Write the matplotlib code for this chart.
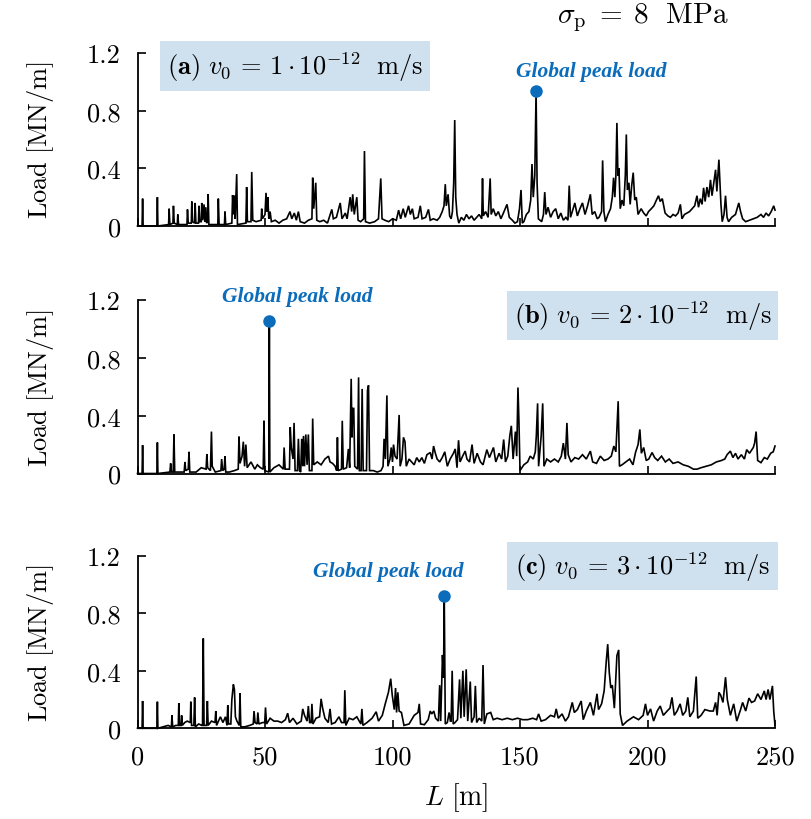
import matplotlib
matplotlib.use("Agg")
import matplotlib.pyplot as plt

plt.rcParams["mathtext.fontset"] = "cm"
plt.rcParams["font.family"] = "serif"
plt.rcParams["font.serif"] = ["cmr10", "DejaVu Serif"]
plt.rcParams["axes.formatter.use_mathtext"] = True

# ---- panel (a): v0 = 1e-12 m/s ----
L_a = [0, 1.8, 2.0, 2.2, 7.6, 7.8, 8.0, 12.2, 12.4, 12.7, 13.9, 14.1, 14.4, 15.6, 15.8, 16.1,
       19.4, 19.6, 19.9, 21.1, 21.3, 21.6, 22.4, 22.6, 22.9, 23.9, 24.1, 24.4, 25.0, 25.2, 25.6,
       26.1, 26.4, 26.8, 27.1, 27.5, 27.7, 28.0, 31.5, 31.7, 32.0, 34.1, 34.3, 34.6, 37.0, 37.3,
       37.6, 38.0, 38.3, 38.9, 39.2, 42.5, 42.8, 43.1, 44.5, 44.8, 45.2, 46.5, 48.5, 48.7, 49.0,
       50.0, 50.4, 50.8, 51.1, 51.5, 52.0, 52.5, 54, 55.5, 57, 58.5, 59.8, 60.5, 61.5, 62.3, 63.1,
       63.8, 65.5, 67, 68.4, 68.7, 69.1, 69.9, 70.3, 71.5, 73, 74.5, 76.2, 76.8, 78, 79.5, 80.2,
       81.5, 82.2, 83.4, 84.0, 84.4, 85.0, 86.0, 86.5, 87.5, 88.7, 89.0, 89.4, 91, 93, 94.5, 95.4,
       95.9, 97, 98.5, 100, 101.5, 102.4, 103.2, 104.2, 105, 106.3, 107, 107.8, 108.5, 110, 110.9,
       111.6, 113, 114.1, 114.8, 116, 117.5, 118.5, 119.5, 120.2, 120.7, 121.1, 121.8, 122.4,
       123.0, 123.5, 124.0, 124.4, 124.8, 125.3, 126, 127, 128, 129, 130, 131, 132, 133, 134,
       135.0, 135.3, 135.6, 136.5, 137.5, 138.3, 138.7, 139.5, 140.5, 141.5, 142.5, 143.5, 144.9,
       145.8, 147, 148, 149, 149.8, 150.4, 150.9, 151.5, 152.5, 153.5, 154.2, 154.7, 155.2, 155.8,
       156.3, 156.7, 157.2, 158.5, 159.2, 159.7, 160.2, 161, 162, 163, 164, 165, 166, 167, 168,
       168.8, 169.3, 169.8, 170.5, 171.5, 172.5, 173.5, 174.5, 175.5, 176.5, 177.6, 178.3, 179.3,
       180.3, 181, 182.0, 182.4, 182.9, 183.5, 184.5, 185.5, 186.2, 186.7, 187.2, 187.6, 188.0,
       188.4, 188.8, 189.3, 190.0, 190.7, 191.3, 191.7, 192.1, 192.7, 193.2, 193.8, 194.4, 195.0,
       195.6, 196.3, 197.5, 198.5, 199.5, 200.4, 201.5, 202.5, 203.5, 204.3, 205, 205.8, 206.9,
       208, 209, 210, 211, 212, 212.9, 213.5, 214.5, 215.5, 216.5, 217.5, 218.5, 219.4, 220.0,
       220.7, 221.4, 222.0, 222.6, 223.3, 224.0, 224.7, 225.3, 226.0, 226.7, 227.2, 228.0, 228.4,
       228.8, 229.3, 230.0, 230.6, 231.2, 231.8, 233, 234.5, 235.8, 236.5, 237.3, 238.5, 240,
       241.5, 243, 244.5, 245.5, 246.5, 247.5, 248.5, 249.5, 250]
load_a = [0, 0, 0.19, 0, 0, 0.20, 0, 0.01, 0.12, 0.01, 0.02, 0.14, 0.02, 0.01, 0.08, 0.01,
          0.01, 0.115, 0.02, 0.02, 0.17, 0.03, 0.02, 0.16, 0.02, 0.02, 0.14, 0.03, 0.03, 0.16, 0.04,
          0.15, 0.03, 0.13, 0.02, 0.03, 0.22, 0.01, 0.01, 0.19, 0.01, 0.01, 0.10, 0.01, 0.02, 0.215,
          0.08, 0.21, 0.05, 0.36, 0.01, 0.02, 0.27, 0.03, 0.03, 0.375, 0.04, 0.03, 0.04, 0.12, 0.05,
          0.08, 0.23, 0.10, 0.20, 0.05, 0.10, 0.03, 0.04, 0.02, 0.04, 0.05, 0.10, 0.05, 0.09, 0.04, 0.10,
          0.03, 0.02, 0.04, 0.05, 0.335, 0.12, 0.30, 0.04, 0.03, 0.04, 0.02, 0.115, 0.05, 0.06, 0.16, 0.05,
          0.09, 0.05, 0.20, 0.10, 0.22, 0.08, 0.20, 0.04, 0.03, 0.05, 0.52, 0.03, 0.02, 0.03, 0.05, 0.33,
          0.05, 0.04, 0.03, 0.05, 0.04, 0.11, 0.05, 0.12, 0.06, 0.14, 0.08, 0.12, 0.05, 0.06, 0.14,
          0.05, 0.06, 0.115, 0.04, 0.05, 0.04, 0.06, 0.10, 0.14, 0.29, 0.14, 0.22, 0.07,
          0.05, 0.10, 0.30, 0.735, 0.20, 0.08, 0.02, 0.06, 0.04, 0.08, 0.05, 0.07, 0.04, 0.06, 0.08,
          0.05, 0.33, 0.07, 0.10, 0.06, 0.33, 0.08, 0.12, 0.07, 0.10, 0.05, 0.09, 0.15,
          0.06, 0.04, 0.02, 0.03, 0.12, 0.25, 0.02, 0.03, 0.08, 0.10, 0.18, 0.43, 0.20, 0.35,
          0.935, 0.30, 0.05, 0.03, 0.08, 0.235, 0.08, 0.13, 0.06, 0.10, 0.12, 0.05, 0.09, 0.04, 0.06,
          0.04, 0.28, 0.06, 0.10, 0.16, 0.07, 0.12, 0.16, 0.08, 0.14, 0.22, 0.08, 0.10,
          0.05, 0.06, 0.10, 0.455, 0.10, 0.03, 0.08, 0.12, 0.20, 0.335, 0.20, 0.35, 0.715,
          0.35, 0.40, 0.12, 0.18, 0.14, 0.35, 0.635, 0.25, 0.30, 0.15, 0.28, 0.37, 0.18,
          0.20, 0.08, 0.12, 0.09, 0.07, 0.10, 0.12, 0.14, 0.18, 0.21, 0.17, 0.19, 0.09,
          0.07, 0.06, 0.08, 0.07, 0.09, 0.15, 0.05, 0.08, 0.09, 0.10, 0.12, 0.14, 0.21, 0.13,
          0.19, 0.15, 0.265, 0.17, 0.27, 0.20, 0.32, 0.21, 0.30, 0.39, 0.24, 0.46, 0.30,
          0.15, 0.03, 0.08, 0.21, 0.06, 0.03, 0.06, 0.08, 0.16, 0.10, 0.05, 0.03, 0.04,
          0.05, 0.06, 0.08, 0.06, 0.09, 0.07, 0.10, 0.14, 0.11]

# ---- panel (b): v0 = 2e-12 m/s ----
L_b = [0, 1.8, 2.0, 2.2, 7.6, 7.8, 8.0, 12.7, 13.0, 13.3, 14.0, 14.3, 14.6, 18.3, 18.6, 18.9,
       19.9, 20.2, 20.5, 23, 25, 26.9, 27.2, 27.5, 28.6, 29.0, 29.3, 30.5, 32.7, 33.0, 33.4, 34.0,
       34.3, 34.6, 36, 38, 39.5, 39.8, 40.2, 41.0, 41.5, 42.0, 42.5, 43.0, 44.5, 46, 47, 48.2,
       49.3, 49.6, 49.9, 51.5, 51.7, 51.9, 53.5, 55.5, 57.2, 57.5, 57.9, 59.6, 59.9, 60.3, 61.0,
       61.4, 61.8, 62.7, 63.1, 63.5, 64.0, 64.4, 64.8, 65.1, 65.5, 66.0, 66.5, 67.0, 67.4, 68.4,
       68.7, 69.1, 70.5, 72, 73.5, 74.9, 75.5, 76.5, 77.5, 78.1, 78.4, 78.7, 80.0, 80.3, 80.7,
       82.0, 82.7, 83.2, 83.8, 84.1, 84.4, 84.8, 85.2, 86.3, 86.7, 87.0, 87.7, 88.1, 88.5, 89.8,
       90.2, 90.6, 91.0, 92.5, 94, 95.5, 96.3, 96.7, 97.2, 97.8, 98.2, 99.0, 99.5, 100.0, 100.4,
       101.0, 101.8, 102.6, 103.0, 103.7, 104.3, 104.9, 105.4, 106.5, 107.5, 108.5, 109.5, 110.5,
       111.5, 112.5, 113.5, 114.8, 115.5, 116.1, 116.8, 117.5, 118.5, 119.5, 120.5, 121.5, 122.6,
       123.9, 124.6, 125.3, 125.9, 126.5, 127.5, 128.5, 129.2, 130.2, 131.2, 132.0, 133.2, 134.5,
       135.5, 137.0, 138.0, 139.6, 140.5, 141.8, 142.8, 143.6, 144.3, 145.2, 146.0, 146.6, 147.3,
       148.2, 148.7, 149.2, 149.6, 150.0, 151.5, 153, 154.0, 155.2, 156.0, 156.4, 156.9, 157.3,
       158.3, 158.9, 159.4, 160.5, 162, 163.5, 165, 166.2, 167, 167.8, 168.4, 168.9, 170, 171.5,
       173, 174.5, 176, 177.6, 178.5, 180, 181.5, 183, 184.5, 185.8, 186.8, 187.6, 188.5, 189.0,
       190.0, 191.5, 193, 194.3, 195.3, 196.3, 197.0, 197.6, 198.5, 199.5, 200.5, 201.8, 202.8,
       204, 205.5, 207, 208.5, 210, 212, 214, 216, 218, 219.4, 221, 223, 225, 227, 229, 230.3,
       231.2, 232.5, 233.5, 234.5, 235.5, 236.8, 238.0, 238.9, 240, 241.5, 242.0, 242.6, 243.2,
       244.5, 245.8, 247, 248.3, 249.3, 250]
load_b = [0, 0, 0.196, 0, 0, 0.215, 0, 0.01, 0.07, 0.01, 0.01, 0.27, 0.01, 0.01, 0.08, 0.02,
          0.03, 0.15, 0.01, 0.01, 0.04, 0.03, 0.135, 0.04, 0.02, 0.29, 0.05, 0.01, 0.02, 0.10, 0.02, 0.03,
          0.12, 0.01, 0.01, 0.02, 0.03, 0.255, 0.07, 0.12, 0.22, 0.05, 0.20, 0.04, 0.08, 0.03, 0.06, 0.04,
          0.03, 0.365, 0.02, 0.01, 1.056, 0.01, 0.04, 0.06, 0.03, 0.18, 0.03, 0.03, 0.32, 0.18, 0.10,
          0.35, 0.02, 0.02, 0.24, 0.02, 0.01, 0.24, 0.05, 0.26, 0.05, 0.27, 0.06, 0.27, 0.02, 0.02,
          0.38, 0.06, 0.08, 0.06, 0.10, 0.12, 0.08, 0.07, 0.05, 0.02, 0.25, 0.02, 0.03, 0.365, 0.03,
          0.04, 0.17, 0.04, 0.655, 0.25, 0.45, 0.45, 0.05, 0.03, 0.665, 0.02, 0.02, 0.585, 0.02, 0.02,
          0.575, 0.61, 0.02, 0.02, 0.01, 0.02, 0.05, 0.24, 0.10, 0.54, 0.05, 0.10, 0.18, 0.08, 0.20,
          0.12, 0.10, 0.405, 0.05, 0.10, 0.25, 0.22, 0.05, 0.10, 0.08, 0.06, 0.11, 0.08,
          0.11, 0.07, 0.13, 0.145, 0.10, 0.19, 0.14, 0.10, 0.08, 0.11, 0.15, 0.05, 0.10,
          0.14, 0.17, 0.04, 0.23, 0.08, 0.12, 0.155, 0.10, 0.08, 0.20, 0.07, 0.14, 0.08,
          0.06, 0.165, 0.11, 0.18, 0.08, 0.14, 0.10, 0.235, 0.08, 0.12, 0.26, 0.33, 0.10,
          0.29, 0.12, 0.595, 0.35, 0.02, 0.06, 0.08, 0.12, 0.10, 0.15, 0.26, 0.485, 0.05,
          0.26, 0.485, 0.05, 0.10, 0.08, 0.10, 0.08, 0.12, 0.21, 0.10, 0.35, 0.13, 0.08, 0.11,
          0.10, 0.13, 0.10, 0.155, 0.08, 0.07, 0.12, 0.09, 0.10, 0.12, 0.19, 0.15, 0.50, 0.05,
          0.06, 0.08, 0.10, 0.06, 0.145, 0.20, 0.305, 0.14, 0.18, 0.09, 0.10, 0.145, 0.11,
          0.09, 0.12, 0.08, 0.10, 0.07, 0.08, 0.06, 0.05, 0.03, 0.03, 0.04, 0.05, 0.06, 0.08, 0.09, 0.10,
          0.13, 0.155, 0.11, 0.14, 0.10, 0.13, 0.10, 0.165, 0.14, 0.18, 0.21, 0.29, 0.09,
          0.075, 0.11, 0.10, 0.14, 0.15, 0.19]

# ---- panel (c): v0 = 3e-12 m/s ----
L_c = [0, 1.8, 2.0, 2.2, 7.6, 7.8, 8.0, 10, 12, 13.3, 13.5, 13.8, 15, 16.0, 16.2, 16.5, 17.1,
       17.3, 17.6, 18.5, 19.5, 20.7, 20.9, 21.2, 22.1, 22.4, 22.7, 24, 25.2, 25.5, 25.8, 26.1,
       27.1, 27.4, 27.7, 29, 30.4, 30.7, 31.0, 32.5, 33.5, 34.5, 35.1, 35.4, 35.7, 36.6, 37.0,
       37.6, 38.0, 38.4, 39.0, 39.9, 40.2, 40.5, 42, 44, 45.4, 45.7, 46.1, 46.9, 47.2, 47.6, 49,
       49.9, 50.2, 50.6, 52, 53.5, 55, 56.5, 58.0, 58.9, 59.6, 61, 62.5, 64.2, 64.8, 65.5, 66.5,
       67.0, 67.5, 68.1, 68.4, 68.8, 70, 71.4, 72.0, 72.6, 73.5, 74.8, 75.5, 76.1, 77.5, 79, 80,
       81.0, 81.3, 81.7, 83, 84.5, 86, 87.6, 88.0, 88.4, 90, 92, 93.6, 94.5, 96, 97.3, 98.4, 99.3,
       99.9, 100.7, 101.2, 101.6, 102.1, 102.6, 103.5, 104.5, 106.5, 108.5, 110.0, 110.5, 111.0,
       112.5, 114.0, 114.8, 115.4, 116.2, 116.9, 118.0, 118.5, 118.9, 119.6, 120.0, 120.3, 120.7,
       121.5, 122.2, 122.7, 123.0, 123.4, 123.8, 124.5, 125.5, 126.3, 126.8, 127.6, 128.1, 128.9,
       129.5, 130.5, 131.0, 132.0, 132.5, 133.0, 134.0, 135.0, 135.5, 136.0, 137, 138.5, 139.5,
       141, 143, 145, 147, 149, 151, 153, 155, 156.5, 157.3, 158.3, 160, 162, 163.5, 164.2, 165,
       166.5, 167.8, 169, 170.5, 171.3, 172.5, 174.0, 174.8, 176, 177.6, 178.8, 180.2, 180.8, 182,
       183.0, 183.8, 184.4, 185.0, 185.6, 186.2, 187.0, 188.0, 188.7, 189.3, 190.2, 192, 194.5,
       196.5, 198.3, 199.2, 200.0, 201.2, 202.4, 203.8, 205.0, 206.2, 207.7, 208.8, 209.6, 210.5,
       211.6, 212.8, 213.8, 215.0, 215.8, 216.6, 218.0, 219.1, 219.7, 221, 222.5, 224.5, 225.8,
       226.7, 227.3, 228.0, 228.7, 229.6, 230.6, 231.3, 232.5, 233.8, 235.0, 236.5, 237.3, 238.5,
       239.8, 240.8, 242.0, 243.2, 244.5, 245.8, 246.5, 247.3, 248.0, 249.0, 249.5, 250]
load_c = [0, 0, 0.19, 0, 0, 0.185, 0, 0.01, 0.02, 0.01, 0.09, 0.01, 0.02, 0.02, 0.175, 0.02, 0.02,
          0.09, 0.02, 0.04, 0.05, 0.04, 0.185, 0.02, 0.02, 0.215, 0.01, 0.03, 0.02, 0.02, 0.625, 0.02,
          0.02, 0.19, 0.02, 0.05, 0.04, 0.12, 0.02, 0.08, 0.04, 0.08, 0.02, 0.16, 0.03, 0.03, 0.20,
          0.305, 0.27, 0.08, 0.05, 0.02, 0.245, 0.01, 0.01, 0.02, 0.03, 0.12, 0.04, 0.03, 0.11, 0.03, 0.04,
          0.04, 0.145, 0.03, 0.07, 0.05, 0.05, 0.04, 0.06, 0.105, 0.04, 0.07, 0.03, 0.05, 0.135, 0.09, 0.05,
          0.155, 0.04, 0.04, 0.17, 0.03, 0.07, 0.08, 0.205, 0.14, 0.07, 0.04, 0.135, 0.03, 0.04, 0.08, 0.04,
          0.04, 0.265, 0.02, 0.07, 0.06, 0.08, 0.03, 0.135, 0.02, 0.04, 0.07, 0.115, 0.05, 0.09, 0.18, 0.25, 0.345,
          0.23, 0.13, 0.28, 0.11, 0.25, 0.12, 0.11, 0.02, 0.03, 0.09, 0.11, 0.17, 0.03,
          0.025, 0.06, 0.12, 0.10, 0.12, 0.07, 0.05, 0.30, 0.05, 0.51, 0.35, 0.92, 0.03,
          0.04, 0.11, 0.05, 0.05, 0.40, 0.03, 0.04, 0.06, 0.34, 0.07, 0.40, 0.08, 0.41,
          0.05, 0.325, 0.04, 0.08, 0.295, 0.04, 0.07, 0.05, 0.44, 0.03, 0.10, 0.11, 0.06,
          0.07, 0.06, 0.07, 0.06, 0.07, 0.06, 0.06, 0.07, 0.06, 0.10, 0.05, 0.06, 0.09, 0.08, 0.135, 0.07,
          0.10, 0.05, 0.08, 0.18, 0.11, 0.13, 0.19, 0.06, 0.12, 0.18, 0.09, 0.24, 0.13, 0.17,
          0.26, 0.46, 0.585, 0.39, 0.28, 0.30, 0.14, 0.505, 0.545, 0.10, 0.02, 0.05, 0.08,
          0.06, 0.09, 0.17, 0.09, 0.135, 0.05, 0.12, 0.155, 0.09, 0.12, 0.14, 0.215, 0.09,
          0.12, 0.17, 0.09, 0.12, 0.215, 0.08, 0.12, 0.36, 0.07, 0.09, 0.13, 0.12, 0.12,
          0.18, 0.09, 0.25, 0.23, 0.18, 0.355, 0.20, 0.09, 0.17, 0.05, 0.13, 0.18, 0.12,
          0.21, 0.18, 0.19, 0.24, 0.20, 0.26, 0.20, 0.27, 0.20, 0.295, 0.12, 0.02]

series = [(L_a, load_a), (L_b, load_b), (L_c, load_c)]
panel_tags = ["a", "b", "c"]
v0_values = ["1", "2", "3"]
y_ticks = [0, 0.4, 0.8, 1.2]
y_tick_labels = ["0", "0.4", "0.8", "1.2"]
x_ticks = [0, 50, 100, 150, 200, 250]
x_tick_labels = ["0", "50", "100", "150", "200", "250"]

peak_color = "#0b6cbb"
box_color = "#cfe0ee"
W, H = 811, 820

fig = plt.figure(figsize=(W / 100, H / 100), dpi=100)

# pixel rows of the zero line and the 1.2 line for each panel
rows = [(227.0, 54.0), (474.5, 301.0), (729.3, 556.7)]
x0_px, x1_px = 137.5, 775.0

# label box placement (pixel left, top, right, bottom)
boxes = [(160, 42, 430, 92), (507, 292, 778, 341), (507, 543, 778, 591)]
# anchor of the "Global peak load" text (pixel centre)
peak_text_px = [(591, 72), (297, 297), (388, 572)]

for i, ((xs, ys), tag, v0) in enumerate(zip(series, panel_tags, v0_values)):
    y0p, y1p = rows[i]
    ax = fig.add_axes([x0_px / W, 1 - y0p / H, (x1_px - x0_px) / W, (y0p - y1p) / H])
    ax.plot(xs, ys, color="black", lw=1.2, solid_joinstyle="miter", clip_on=False, zorder=3)

    # global peak marker from the series itself
    k = max(range(len(ys)), key=lambda j: ys[j])
    ax.plot([xs[k]], [ys[k]], "o", color=peak_color, ms=8, zorder=4, clip_on=False)
    tx, ty = peak_text_px[i]
    fig.text(tx / W, 1 - ty / H, "Global peak load", color=peak_color,
             family="Liberation Serif", weight="bold", style="italic",
             fontsize=15.5, ha="center", va="center")

    ax.set_xlim(0, 250)
    ax.set_ylim(0, 1.2)
    for s in ("top", "right"):
        ax.spines[s].set_visible(False)
    ax.spines["left"].set_linewidth(1.3)
    ax.spines["bottom"].set_linewidth(1.3)
    ax.set_yticks(y_ticks)
    ax.set_yticklabels(y_tick_labels)
    ax.set_xticks(x_ticks)
    if i == 2:
        ax.set_xticklabels(x_tick_labels)
        ax.set_xlabel(r"$L\ [\mathrm{m}]$", fontsize=20, labelpad=8)
    else:
        ax.set_xticklabels([])
    ax.tick_params(direction="in", length=6, width=1.2, labelsize=19, pad=12)
    ax.set_ylabel(r"$\mathrm{Load\ [MN/m]}$", fontsize=19, labelpad=10)
    ax.yaxis.set_label_coords(-0.128, 0.5)
    ax.patch.set_alpha(0)

    l, t, r, b = boxes[i]
    fig.patches.append(plt.Rectangle((l / W, 1 - b / H), (r - l) / W, (b - t) / H,
                                     transform=fig.transFigure, facecolor=box_color,
                                     edgecolor="none", zorder=0))
    fig.text((l + r) / 2 / W, 1 - (t + b) / 2 / H,
             r"$\mathbf{(%s)}\ v_0 \,=\, %s\cdot 10^{-12}\ \ \mathrm{m/s}$" % (tag, v0),
             fontsize=19, ha="center", va="center")

fig.text(643 / W, 1 - 18 / H, r"$\sigma_{\mathrm{p}} \;=\; 8\ \ \mathrm{MPa}$",
         fontsize=21, ha="center", va="center")

fig.savefig("out.png", dpi=100)
